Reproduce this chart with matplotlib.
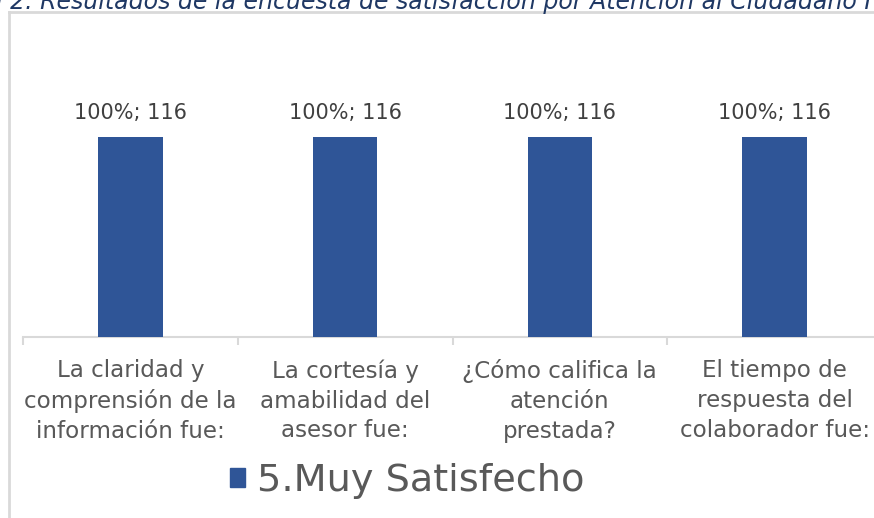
import numpy as np
import matplotlib.pyplot as plt
from matplotlib.lines import Line2D

plt.rcParams['font.family'] = ['DejaVu Sans']

# data
categorias = ['La claridad y\ncomprensión de la\ninformación fue:',
              'La cortesía y\namabilidad del\nasesor fue:',
              '¿Cómo califica la\natención\nprestada?',
              'El tiempo de\nrespuesta del\ncolaborador fue:']
valores = [116, 116, 116, 116]
porcentajes = [100, 100, 100, 100]
serie = '5.Muy Satisfecho'
titulo = 'l 2. Resultados de la encuesta de satisfacción por Atención al Ciudadano I'

W, H = 874, 518
fig = plt.figure(figsize=(W / 100, H / 100), dpi=100)

# axes placed in pixel terms (right side runs past the image edge, as in the reference)
left, right, top, bottom = 23, 882, 40, 337
ax = fig.add_axes([left / W, 1 - bottom / H, (right - left) / W, (bottom - top) / H])

x = np.arange(len(categorias))
ax.bar(x, valores, width=0.3, color='#2f5597', zorder=3)
for xi, v, p in zip(x, valores, porcentajes):
    ax.text(xi, v + 8, f'{p}%; {v}', ha='center', va='bottom', fontsize=15, color='#404040')

ax.set_xlim(-0.5, len(categorias) - 0.5)
ax.set_ylim(0, 116 * (bottom - top) / 200)
ax.set_yticks([])
ax.set_xticks(x)
ax.set_xticklabels(categorias, fontsize=16.6, color='#595959', linespacing=1.38)
ax.tick_params(axis='x', which='major', length=0, pad=16)
ax.set_xticks(np.arange(-0.5, len(categorias)), minor=True)
ax.tick_params(axis='x', which='minor', length=6, color='#d9d9d9', width=1.5)
for s in ['top', 'right', 'left']:
    ax.spines[s].set_visible(False)
ax.spines['bottom'].set_color('#d9d9d9')
ax.spines['bottom'].set_linewidth(1.5)

# legend
h = plt.Rectangle((0, 0), 1, 1, color='#2f5597')
fig.legend([h], [serie], loc='center', bbox_to_anchor=(407 / W, 1 - 481 / H),
           frameon=False, fontsize=27.5, labelcolor='#595959',
           handlelength=0.4, handleheight=0.4, handletextpad=0.3)

# chart frame (left and top edges visible)
fig.add_artist(Line2D([9 / W, 9 / W], [0, 1 - 12 / H], color='#d9d9d9', lw=2))
fig.add_artist(Line2D([9 / W, 1], [1 - 12 / H, 1 - 12 / H], color='#d9d9d9', lw=2))

# cut-off caption above the chart
fig.text(-4 / W, 1 - 9 / H, titulo, fontsize=17, style='italic', color='#1f3864',
         ha='left', va='baseline')

fig.savefig('out.png', dpi=100)
